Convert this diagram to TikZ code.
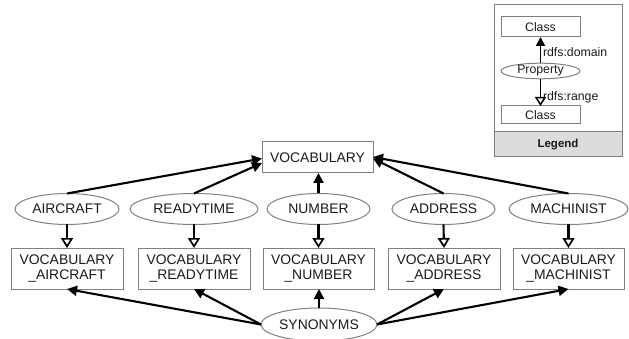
\documentclass[tikz,border=0pt]{standalone}
\usepackage{fontspec}
\setmainfont{Liberation Sans}
\usetikzlibrary{arrows.meta,shapes.geometric,calc}
\definecolor{bordergray}{HTML}{808080}
\definecolor{txt}{HTML}{1A1A1A}
\definecolor{bandgray}{HTML}{DCDCDC}
\begin{document}
\begin{tikzpicture}[x=1pt,y=-1pt,
  every node/.style={inner sep=0pt,outer sep=0pt,text=txt},
  cls/.style={draw=bordergray,line width=1pt,rectangle,align=center,font=\fontsize{13.9}{14.5}\selectfont},
  prop/.style={draw=bordergray,line width=1pt,ellipse,font=\fontsize{13.9}{14.5}\selectfont},
  lcls/.style={draw=bordergray,line width=1pt,rectangle,font=\fontsize{12.3}{13}\selectfont},
  lprop/.style={draw=bordergray,line width=1pt,ellipse,font=\fontsize{12.3}{13}\selectfont},
  dom/.style={line width=2.1pt,-{Triangle[length=10pt,width=10pt]}},
  rng/.style={line width=2.1pt,-{Triangle[open,length=10pt,width=12pt,fill=white,line width=1.7pt]}},
  ldom/.style={line width=1.8pt,-{Triangle[length=9pt,width=9pt]}},
  lrng/.style={line width=1.8pt,-{Triangle[open,length=9pt,width=11pt,fill=white,line width=1.5pt]}},
  lbl/.style={font=\fontsize{12.3}{13}\selectfont,anchor=west}]
\useasboundingbox (0,0) rectangle (629,339);

% Legend
\node[draw=bordergray,line width=1pt,minimum width=128pt,minimum height=152pt,anchor=north west] (legbox) at (494,5) {};
\node[draw=bordergray,line width=1pt,fill=bandgray,minimum width=128pt,minimum height=25pt,anchor=north west,font=\bfseries\fontsize{11.5}{12}\selectfont] (legend) at (494,132) {Legend};
\node[lcls,minimum width=79pt,minimum height=20pt] (lc1) at (540.5,27) {Class};
\node[lprop,minimum width=79pt,minimum height=15pt] (lp) at (540.5,71) {Property};
\node[lcls,minimum width=79pt,minimum height=18pt] (lc2) at (540.5,115) {Class};
\draw[ldom] (lp.north) -- (lc1.south);
\draw[lrng] (lp.south) -- (lc2.north);
\node[lbl] (ldomlbl) at (543,52) {rdfs:domain};
\node[lbl] (lrnglbl) at (543,97) {rdfs:range};

% Main
\node[cls,minimum width=111pt,minimum height=31pt] (vocab) at (317.5,157.5) {VOCABULARY};

\node[prop,minimum width=104pt,minimum height=31pt] (aircraft) at (67,209) {AIRCRAFT};
\node[prop,minimum width=128pt,minimum height=31pt] (ready) at (194,209) {READYTIME};
\node[prop,minimum width=103pt,minimum height=31pt] (number) at (318.5,209) {NUMBER};
\node[prop,minimum width=103pt,minimum height=31pt] (address) at (443.5,209) {ADDRESS};
\node[prop,minimum width=119pt,minimum height=31pt] (machinist) at (568.5,209) {MACHINIST};

\node[cls,minimum width=112pt,minimum height=41pt] (vaircraft) at (67,268.5) {VOCABULARY\\\_AIRCRAFT};
\node[cls,minimum width=112pt,minimum height=41pt] (vready) at (194,268.5) {VOCABULARY\\\_READYTIME};
\node[cls,minimum width=111pt,minimum height=41pt] (vnumber) at (318.5,268.5) {VOCABULARY\\\_NUMBER};
\node[cls,minimum width=112pt,minimum height=41pt] (vaddress) at (444,268.5) {VOCABULARY\\\_ADDRESS};
\node[cls,minimum width=111pt,minimum height=41pt] (vmach) at (568.5,268.5) {VOCABULARY\\\_MACHINIST};

\node[prop,minimum width=116pt,minimum height=33pt] (syn) at (319,324.5) {SYNONYMS};

% property -> vocabulary (domain)
\draw[dom] (aircraft.north) -- ($(vocab.west)+(0,1)$);
\draw[dom] (ready.north) -- ($(vocab.west)+(0,5.5)$);
\draw[dom] (number.north) -- (vocab.south -| number.north);
\draw[dom] (address.north) -- ($(vocab.east)+(0,1)$);
\draw[dom] (machinist.north) -- ($(vocab.east)+(0,-0.5)$);

% property -> vocabulary_x (range)
\draw[rng] (aircraft.south) -- (vaircraft.north);
\draw[rng] (ready.south) -- (vready.north);
\draw[rng] (number.south) -- (vnumber.north);
\draw[rng] (address.south) -- (vaddress.north);
\draw[rng] (machinist.south) -- (vmach.north);

% synonyms -> vocabulary_x (domain)
\draw[dom] (syn.west) -- (vaircraft.south);
\draw[dom] (syn.west) -- (vready.south);
\draw[dom] (syn.north) -- (vnumber.south -| syn.north);
\draw[dom] (syn.east) -- (vaddress.south);
\draw[dom] (syn.east) -- (vmach.south);
\end{tikzpicture}
\end{document}
